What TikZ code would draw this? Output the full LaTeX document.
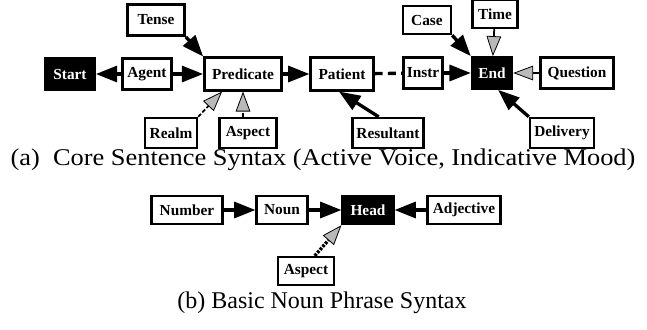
\documentclass[tikz,border=0pt]{standalone}
\usepackage{fontspec}
\setmainfont{Liberation Serif}
\usepackage{graphicx}
\usetikzlibrary{arrows.meta}

\begin{document}
\begin{tikzpicture}[x=0.75pt,y=-0.75pt,
	main node/.style={rectangle, draw, line width=1.8pt, inner sep=1pt, minimum height=23.5pt, font=\bfseries\fontsize{11.5}{13}\selectfont},
	end node/.style={main node, fill=black, text=white},
	link/.style={line width=2.5pt, -{Triangle[length=16pt,width=12pt]}},
	weak link/.style={line width=1.3pt, dash pattern=on 3pt off 1.5pt, -{Triangle[length=15pt,width=11pt,fill=gray!55,line width=0.6pt]}},
	caption/.style={font=\fontsize{18}{21}\selectfont}]
	\useasboundingbox (0,0) rectangle (647,329);
	% Nodes
	\node[end node, minimum width=37pt] (start) at (70,74) {Start};
	\node[main node, minimum width=37pt] (agent) at (147,74) {Agent};
	\node[main node, minimum width=58pt, minimum height=24.5pt] (predicate) at (243,74) {Predicate};
	\node[main node, minimum width=43pt] (tense) at (156,20) {Tense};
	\node[main node, minimum width=39pt, minimum height=22.5pt] (realm) at (171,133) {Realm};
	\node[main node, minimum width=43pt, minimum height=22.5pt] (aspect) at (248,133) {Aspect};
	\node[main node, minimum width=47pt, minimum height=24.5pt] (patient) at (342,74) {Patient};
	\node[main node, minimum width=29pt] (instr) at (423,73) {Instr};
	\node[end node, minimum width=30pt] (end) at (492,73) {End};
	\node[main node, minimum width=36pt, minimum height=21pt] (case) at (427,20) {Case};
	\node[main node, minimum width=34pt, minimum height=21pt] (time) at (495,14) {Time};
	\node[main node, minimum width=55pt] (question) at (577,73) {Question};
	\node[main node, minimum width=53pt, minimum height=22.5pt] (resultant) at (388,133) {Resultant};
	\node[main node, minimum width=48pt, minimum height=22.5pt] (delivery) at (562,133) {Delivery};
	
	\node[caption] (capa) at (323,160) {\scalebox{1.1}[1]{(a)\ \ Core Sentence Syntax (Active Voice, Indicative Mood)}};
	
	\node[main node, minimum width=53pt, minimum height=21pt] (number) at (187,210) {Number};
	\node[main node, minimum width=38pt, minimum height=21pt] (noun) at (282,210) {Noun};
	\node[end node, minimum width=38pt, minimum height=21pt] (head) at (368,210) {Head};
	\node[main node, minimum width=55pt, minimum height=21pt] (adjective) at (464,210) {Adjective};
	\node[main node, minimum width=42pt, minimum height=21pt] (aspect2) at (306,271) {Aspect};
	
	\node[caption] (capb) at (322,303) {(b) Basic Noun Phrase Syntax};
	
	% Connectors
	\path
	(agent) edge[link] (start)
	edge[link] (predicate)
	(tense.south east) edge[link] (predicate.north west)
	(realm.north east) edge[weak link] (predicate.-140)
	(aspect.north -| predicate.south) edge[weak link] (predicate.south)
	(predicate) edge[link] (patient)
	(patient) edge[line width=2.5pt, dash pattern=on 6pt off 4pt] (instr)
	(instr) edge[link] (end)
	(case.south east) edge[link] (end.north west)
	(time) edge[weak link, solid] (end)
	(question) edge[weak link, solid] (end)
	(resultant.120) edge[link] (patient.-100)
	(delivery.north west) edge[link] (end.-70)
	
	(number) edge[link] (noun)
	(noun) edge[link] (head)
	(adjective) edge[link] (head)
	(aspect2.60) edge[weak link, line width=2.5pt, dash pattern=on 2pt off 1pt] (head.south west);
	
\end{tikzpicture}
\end{document}
